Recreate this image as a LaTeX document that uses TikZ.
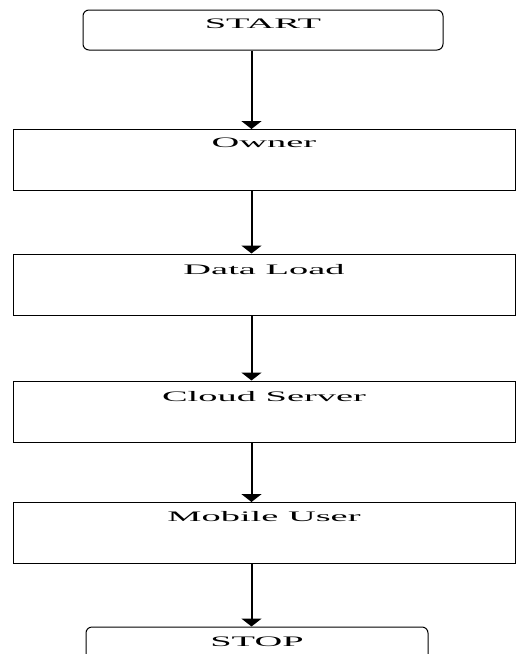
\documentclass[tikz,border=0pt]{standalone}
\usepackage{fontspec}
\setmainfont{Liberation Serif}
\usepackage{graphicx}
\usetikzlibrary{arrows.meta}
\tikzset{
  box/.style={draw, line width=1pt, rectangle, minimum width=502pt, minimum height=61pt, inner sep=0pt},
  term/.style={draw, line width=1pt, rectangle, rounded corners=6pt, inner sep=0pt},
  lbl/.style={inner sep=0pt, font=\fontsize{14.5pt}{16pt}\selectfont},
  flow/.style={line width=2pt, -{Triangle[width=20pt,length=8pt]}}
}
\newcommand{\wide}[1]{\scalebox{2.65}[1]{#1}}
\begin{document}
\begin{tikzpicture}[x=1pt,y=-1pt]
\useasboundingbox (0,0) rectangle (516,654);
\clip (0,0) rectangle (516,654);
\coordinate (ax) at (251.5,0);
% terminals
\node[term, minimum width=360pt, minimum height=40pt] (start) at (263,30) {};
\node[lbl] (starttxt) at (263,24) {\wide{START}};
\node[term, minimum width=342pt, minimum height=44pt] (stop) at (257,649) {};
\node[lbl] (stoptxt) at (257,642) {\wide{STOP}};
% process boxes
\node[box] (owner) at (264,160) {};
\node[lbl] (ownertxt) at (264,143) {\wide{Owner}};
\node[box] (data) at (264,284.5) {};
\node[lbl] (datatxt) at (264,270) {\wide{Data Load}};
\node[box] (cloud) at (264,411.5) {};
\node[lbl] (cloudtxt) at (264,397) {\wide{Cloud Server}};
\node[box] (mobile) at (264,533) {};
\node[lbl] (mobiletxt) at (264,517) {\wide{Mobile User}};
% connectors
\draw[flow] (start.south -| ax) -- (owner.north -| ax);
\draw[flow] (owner.south -| ax) -- (data.north -| ax);
\draw[flow] (data.south -| ax) -- (cloud.north -| ax);
\draw[flow] (cloud.south -| ax) -- (mobile.north -| ax);
\draw[flow] (mobile.south -| ax) -- (stop.north -| ax);
\end{tikzpicture}
\end{document}
